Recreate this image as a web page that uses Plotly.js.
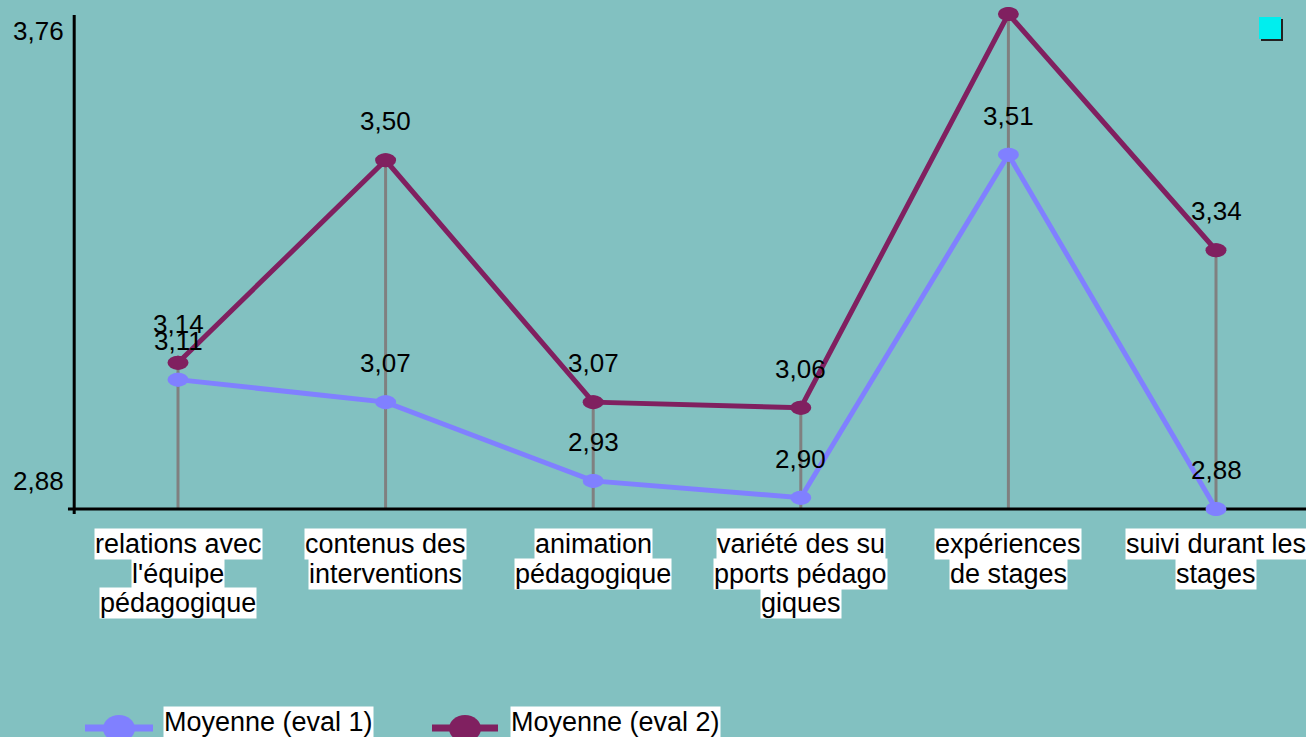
<!DOCTYPE html>
<html>
<head>
<meta charset="utf-8">
<script src="https://cdn.plot.ly/plotly-3.0.1.min.js"></script>
<style>html,body{margin:0;padding:0;background:#82C1C1;}#chart{width:1306px;height:737px;}</style>
</head>
<body>
<div id="chart"></div>
<script>
// ---- data ----
const categories = [
  "relations avec<br>l'équipe<br>pédagogique",
  "contenus des<br>interventions",
  "animation<br>pédagogique",
  "variété des su<br>pports pédago<br>giques",
  "expériences<br>de stages",
  "suivi durant les<br>stages"
];
const seriesNames = ["Moyenne (eval 1)", "Moyenne (eval 2)"];
const eval1 = [3.11, 3.07, 2.93, 2.90, 3.51, 2.88];
const eval2 = [3.14, 3.50, 3.07, 3.06, 3.76, 3.34];
const yTickValues = [2.88, 3.76];
const yTickLabels = ["2,88", "3,76"];

// ---- styling ----
const W = 1306, H = 737;
const FONT = "Liberation Sans, Arial, sans-serif";
const BG = "#82C1C1";
const colors = ["#8080FF", "#802060"];
const fs = 26;      // numbers
const fsText = 27; // words
const yMin = yTickValues[0], yMax = yTickValues[yTickValues.length - 1];
const pxPerUnitY = 562.5, axisPy = 509, pxPerCat = 207.6, firstCatPx = 178;
const xRange = [-firstCatPx / pxPerCat, (W - firstCatPx) / pxPerCat];
const yRange = [yMin - (H - axisPy) / pxPerUnitY, yMin + axisPy / pxPerUnitY];
const px = p => p / W;
const py = p => 1 - p / H;
const fmt = v => v.toFixed(2).replace('.', ',');
const idx = categories.map((_, i) => i);

const series = [eval1, eval2];

// drop lines
const dx = [], dy = [];
idx.forEach(i => { dx.push(i, i, null); dy.push(Math.max(eval1[i], eval2[i]), yMin, null); });

const traces = [{
  x: dx, y: dy, mode: 'lines', line: {color: '#808080', width: 3},
  showlegend: false, hoverinfo: 'skip'
}];
series.forEach((s, k) => {
  traces.push({
    x: idx, y: s, name: seriesNames[k], mode: 'lines+markers',
    line: {color: colors[k], width: 5},
    marker: {color: colors[k], size: 14, symbol: 'circle'},
    cliponaxis: false, showlegend: false
  });
});

const shapes = [];
// axis lines
shapes.push({type: 'line', xref: 'x', yref: 'y', x0: -0.5, x1: -0.5,
  y0: yMin - 5 / pxPerUnitY, y1: yMax - 1 / pxPerUnitY, line: {color: '#000', width: 3}, layer: 'below'});
shapes.push({type: 'line', xref: 'x', yref: 'y', x0: -0.53, x1: xRange[1] + 0.1,
  y0: yMin, y1: yMin, line: {color: '#000', width: 3}, layer: 'above'});
// ellipse markers
series.forEach((s, k) => {
  s.forEach((v, i) => {
    shapes.push({type: 'circle', xref: 'x', yref: 'y', xsizemode: 'pixel', ysizemode: 'pixel',
      xanchor: i, yanchor: v, x0: -10.5, x1: 10.5, y0: -7, y1: 7,
      fillcolor: colors[k], line: {width: 0}});
  });
});
// top-right square
shapes.push({type: 'rect', xref: 'paper', yref: 'paper', x0: px(1261), x1: px(1283), y0: py(41), y1: py(19),
  fillcolor: '#222222', line: {width: 0}});
shapes.push({type: 'rect', xref: 'paper', yref: 'paper', x0: px(1259), x1: px(1281), y0: py(39), y1: py(17),
  fillcolor: '#00EEEE', line: {width: 0}});

// custom legend
const legendSymbolX = [[85, 153], [432, 498]];
const legendTextX = [163, 510];
seriesNames.forEach((n, k) => {
  const [a, b] = legendSymbolX[k];
  const c = (a + b) / 2;
  shapes.push({type: 'line', xref: 'paper', yref: 'paper', x0: px(a), x1: px(b), y0: py(728), y1: py(728),
    line: {color: colors[k], width: 7}});
  shapes.push({type: 'circle', xref: 'paper', yref: 'paper', x0: px(c - 16), x1: px(c + 16), y0: py(742), y1: py(715),
    fillcolor: colors[k], line: {width: 0}});
});

const annotations = [];
// data labels
series.forEach((s, k) => {
  s.forEach((v, i) => {
    annotations.push({x: i, y: v, xref: 'x', yref: 'y', text: fmt(v), showarrow: false,
      yshift: 39, xanchor: 'center', yanchor: 'middle', font: {family: FONT, size: fs, color: '#000'}});
  });
});
// category labels (one white box per line)
categories.forEach((c, i) => {
  c.split('<br>').forEach((line, j) => {
    annotations.push({x: i, y: yMin, xref: 'x', yref: 'y', text: line, showarrow: false,
      yshift: -(35 + 29.5 * j), xanchor: 'center', yanchor: 'middle',
      bgcolor: '#FFFFFF', borderpad: 0, font: {family: FONT, size: fsText, color: '#000'}});
  });
});
// y tick labels
const yTickShift = [28, -17];
yTickValues.forEach((v, i) => {
  annotations.push({x: px(66), xref: 'paper', y: v, yref: 'y', text: yTickLabels[i], showarrow: false,
    xanchor: 'right', yanchor: 'middle', yshift: yTickShift[i], font: {family: FONT, size: fs, color: '#000'}});
});
// legend text
seriesNames.forEach((n, k) => {
  annotations.push({x: px(legendTextX[k]), xref: 'paper', y: py(722), yref: 'paper', text: n, showarrow: false,
    xanchor: 'left', yanchor: 'middle', bgcolor: '#FFFFFF', borderpad: 0,
    font: {family: FONT, size: fsText, color: '#000'}});
});

const layout = {
  width: W, height: H,
  margin: {l: 0, r: 0, t: 0, b: 0, pad: 0},
  paper_bgcolor: BG, plot_bgcolor: BG,
  showlegend: false, hovermode: false,
  xaxis: {range: xRange, showgrid: false, zeroline: false, showticklabels: false, showline: false, fixedrange: true},
  yaxis: {range: yRange, showgrid: false, zeroline: false, showticklabels: false, showline: false, fixedrange: true},
  shapes: shapes, annotations: annotations,
  font: {family: FONT, size: fs, color: '#000'}
};

Plotly.newPlot('chart', traces, layout, {displayModeBar: false, staticPlot: true});
</script>
</body>
</html>
